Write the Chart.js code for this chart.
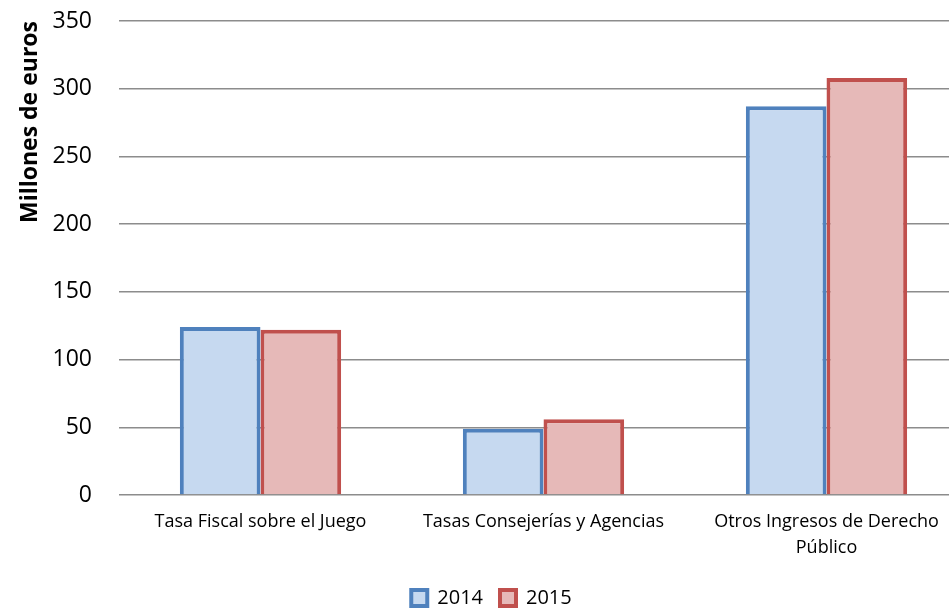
<!DOCTYPE html>
<html>
<head>
<meta charset="utf-8">
<script src="https://cdn.jsdelivr.net/npm/chart.js@4"></script>
<style>
  html, body { margin: 0; padding: 0; background: #fff; overflow: hidden; }
  /* el área de trazado del original sigue más allá del borde derecho */
  #wrap { width: 968px; height: 608px; }
</style>
</head>
<body>
<div id="wrap"><canvas id="chart"></canvas></div>
<script>
// datos (millones de euros)
const categories = [
  "Tasa Fiscal sobre el Juego",
  "Tasas Consejerías y Agencias",
  ["Otros Ingresos de Derecho", "Público"]
];
const years = ["2014", "2015"];
const values2014 = [124, 49, 287];
const values2015 = [122, 56, 308];
const yTicks = [0, 50, 100, 150, 200, 250, 300, 350];

const FONT = "'Open Sans', 'Noto Sans', sans-serif";
const COLORS = {
  blueLine: "#4F81BD", blueFill: "#C6D9F0",
  redLine: "#C0504D", redFill: "#E6B9B8",
  grid: "#8C8C8C", text: "#000"
};

function barDataset(label, data, fill, line) {
  return {
    label, data,
    backgroundColor: fill,
    borderColor: line,
    borderWidth: 4,
    borderSkipped: "bottom",
    categoryPercentage: 0.57,
    barPercentage: 1.0
  };
}

const ctx = document.getElementById("chart").getContext("2d");
new Chart(ctx, {
  type: "bar",
  data: {
    labels: categories,
    datasets: [
      barDataset(years[0], values2014, COLORS.blueFill, COLORS.blueLine),
      barDataset(years[1], values2015, COLORS.redFill, COLORS.redLine)
    ]
  },
  options: {
    responsive: true,
    maintainAspectRatio: false,
    animation: false,
    layout: { padding: { top: 0, right: 0, bottom: -10, left: 15 } },
    plugins: {
      legend: {
        position: "bottom",
        labels: {
          color: COLORS.text,
          font: { family: FONT, size: 20 },
          boxWidth: 16, boxHeight: 16, padding: 17
        }
      },
      tooltip: { enabled: false }
    },
    scales: {
      x: {
        grid: { display: false, drawTicks: false },
        border: { display: false },
        ticks: {
          color: COLORS.text, font: { family: FONT, size: 18, lineHeight: 1.45 },
          maxRotation: 0, autoSkip: false, padding: 14
        },
        afterFit: s => { s.height = 76; }
      },
      y: {
        min: 0, max: 350,
        afterBuildTicks: s => { s.ticks = yTicks.map(v => ({ value: v })); },
        grid: { color: COLORS.grid, lineWidth: 1.5, drawTicks: false },
        border: { display: false },
        ticks: { color: COLORS.text, font: { family: FONT, size: 23 }, padding: 27 },
        title: {
          display: true, text: "Millones de euros", color: COLORS.text, align: "end",
          font: { family: FONT, size: 23, weight: "bold" }, padding: { top: 2, bottom: 0 }
        },
        afterFit: s => {
          s.width = 104;
          // el padding de las etiquetas no debe empujar el área hacia abajo
          s.paddingTop = 21;
          s.paddingBottom = 0;
        }
      }
    }
  }
});
</script>
</body>
</html>
